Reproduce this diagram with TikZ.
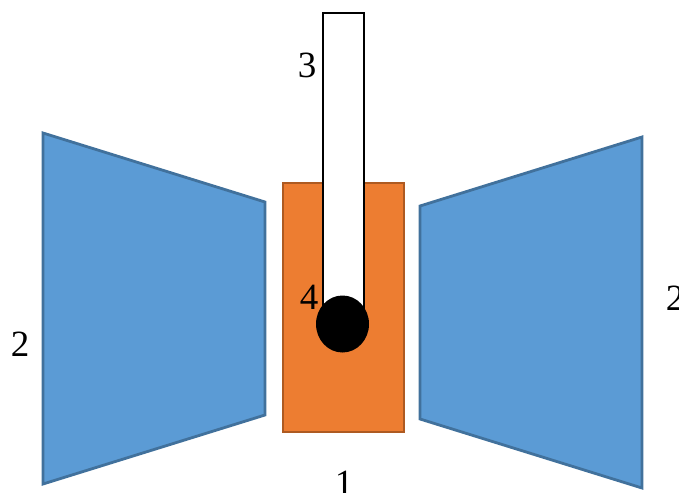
\documentclass[tikz,border=0pt]{standalone}
\usepackage{fontspec}
\setmainfont{Liberation Serif}
\usepackage{xcolor}
\usetikzlibrary{shapes.geometric}
\definecolor{wingBlue}{RGB}{91, 155, 213}
\definecolor{wingEdge}{RGB}{65, 113, 156}
\definecolor{bodyOrange}{RGB}{237, 125, 49}
\definecolor{bodyEdge}{RGB}{174, 90, 33}

\begin{document}
\begin{tikzpicture}[
				x=1pt, y=-1pt,
				wing/.style     = {draw=wingEdge, fill=wingBlue, line width=2.8pt, line join=miter},
				body/.style     = {draw=bodyEdge, fill=bodyOrange, line width=2.8pt},
				stem/.style     = {draw=black, fill=white, line width=2.7pt},
				ball/.style     = {ellipse, fill=black, inner sep=0pt, minimum width=53pt, minimum height=57pt},
				numlabel/.style = {font=\fontsize{37}{37}\selectfont, inner sep=0pt}
				]
				\useasboundingbox (0,0) rectangle (679,492);
				
				\draw[wing] (43,133) -- (265,202) -- (265,415) -- (43,484) -- cycle;
				\draw[wing] (642,137) -- (420,206) -- (420,419) -- (642,488) -- cycle;
				\draw[body] (283,183) rectangle (404,432);
				\draw[stem] (323,322) -- (323,13) -- (364,13) -- (364,322);
				\node[ball] (ball) at (342.5,324) {};
				
				\node[numlabel] (lbl1) at (344,483) {1};
				\node[numlabel] (lblL) at (20,344) {2};
				\node[numlabel] (lblR) at (675,298) {2};
				\node[numlabel] (lbl3) at (307,65) {3};
				\node[numlabel] (lbl4) at (309,297) {4};
			\end{tikzpicture}
\end{document}
